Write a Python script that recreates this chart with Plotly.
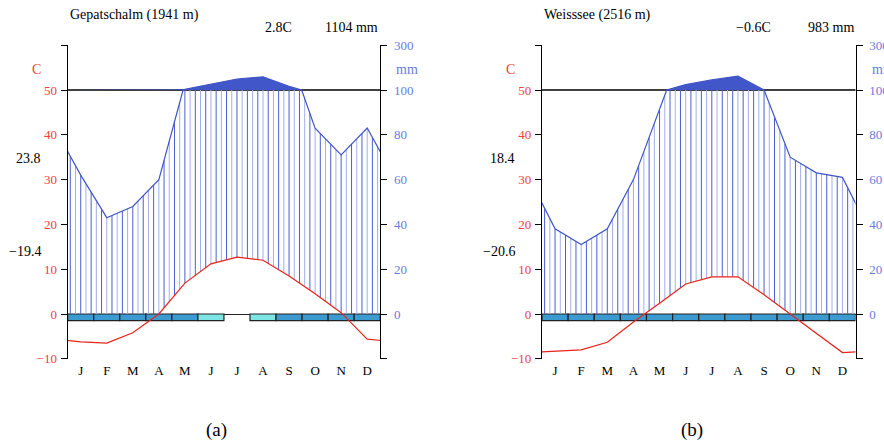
import numpy as np
import plotly.graph_objects as go

# ---------------------------------------------------------------- data
MONTHS = ["J", "F", "M", "A", "M", "J", "J", "A", "S", "O", "N", "D"]

GEP_NAME = "Gepatschalm (1941 m)"
GEP_TEMP = [-6.2, -6.5, -4.2, 0.0, 6.9, 11.2, 12.7, 12.0, 8.5, 4.5, 0.3, -5.6]   # degC
GEP_PREC = [62, 43, 48, 60, 103, 127, 149, 159, 116, 83, 71, 83]                # mm
GEP_ABS_MAX = 23.8
GEP_ABS_MIN = -19.4
GEP_FROST = ["sure", "sure", "sure", "sure", "sure", "prob",
             "none", "prob", "sure", "sure", "sure", "sure"]

WEI_NAME = "Weisssee (2516 m)"
WEI_TEMP = [-8.3, -8.0, -6.3, -1.8, 2.4, 6.7, 8.3, 8.3, 4.3, 0.0, -4.2, -8.6]
WEI_PREC = [38, 31, 38, 60, 91, 124, 145, 162, 100, 70, 63, 61]
WEI_ABS_MAX = 18.4
WEI_ABS_MIN = -20.6
WEI_FROST = ["sure"] * 12

# ---------------------------------------------------------------- style
FONT = "Liberation Serif"
FS = 13
FS_TITLE = 14
PREC_COL = "#4156c9"
HATCH_DARK = "#4a5ed0"
HATCH_LIGHT = "#a3aeeb"
TEMP_COL = "#e8231a"
TEMP_LAB = "#f0413c"
PREC_LAB = "#6a7be0"
FROST_COL = {"sure": "#3b9bd1", "prob": "#7de6e4", "none": "rgba(0,0,0,0)"}
BAR_DEPTH = 1.5          # height of the frost bar, in temperature units

W, H = 884, 443
Y_TOP_PX, Y_BOT_PX = 45.2, 358.8
PANELS_PX = [(67.7, 380.2), (542.0, 855.5)]


def mm_to_axis(p):
    """Walter-Lieth scale: 20 mm per 10 C up to 100 mm, 200 mm per 10 C above."""
    p = np.asarray(p, float)
    return np.where(p <= 100, p / 2.0, 50 + (p - 100) / 20.0)


def padded(vals):
    xs = np.arange(14) - 0.5
    vs = np.r_[vals[-1], vals, vals[0]].astype(float)
    return xs, vs


def prec_path(prec):
    xs, ps = padded(prec)
    px, pp = [xs[0]], [ps[0]]
    for i in range(13):
        a, b = ps[i], ps[i + 1]
        if (a - 100) * (b - 100) < 0:
            f = (100 - a) / (b - a)
            px.append(xs[i] + f)
            pp.append(100.0)
        px.append(xs[i + 1])
        pp.append(b)
    return np.array(px), mm_to_axis(pp)


def fmt(v):
    return f"{v:.1f}".replace("-", "\u2212")


fig = go.Figure()
y_dom = [(H - Y_BOT_PX) / H, (H - Y_TOP_PX) / H]

stations = [
    (GEP_NAME, GEP_TEMP, GEP_PREC, GEP_ABS_MAX, GEP_ABS_MIN, GEP_FROST, "(a)"),
    (WEI_NAME, WEI_TEMP, WEI_PREC, WEI_ABS_MAX, WEI_ABS_MIN, WEI_FROST, "(b)"),
]

annotations = []
shapes = []
for k, (name, temp, prec, tmax, tmin, frost, cap) in enumerate(stations):
    xa = "x" if k == 0 else "x2"
    ya = "y" if k == 0 else "y3"
    yr = "y2" if k == 0 else "y4"
    xdom = "x domain" if k == 0 else "x2 domain"
    x0p, x1p = PANELS_PX[k]

    xs, ts = padded(temp)
    px, pd_ = prec_path(prec)

    # humid-period hatching
    xi = np.arange(0.1, 12, 0.2)
    ti = np.interp(xi, xs, ts)
    pi = np.interp(xi, px, pd_)
    seg = {0: ([], []), 1: ([], [])}
    for j, (xv, tv, pv) in enumerate(zip(xi, ti, pi)):
        lo, hi = max(tv, 0.0), min(pv, 50.0)
        if hi > lo:
            sx, sy = seg[j % 2]
            sx += [xv, xv, None]
            sy += [lo, hi, None]
    for j, col in ((0, HATCH_DARK), (1, HATCH_LIGHT)):
        fig.add_trace(go.Scatter(x=seg[j][0], y=seg[j][1], mode="lines",
                                 line=dict(color=col, width=1),
                                 xaxis=xa, yaxis=ya, hoverinfo="skip",
                                 showlegend=False))

    # frost bar
    fig.add_trace(go.Bar(
        x=np.arange(12) + 0.5, y=[BAR_DEPTH] * 12, base=-BAR_DEPTH, width=1,
        marker=dict(color=[FROST_COL[f] for f in frost],
                    line=dict(color=["#222" if f != "none" else "rgba(0,0,0,0)" for f in frost],
                              width=[1.2 if f != "none" else 0 for f in frost])),
        xaxis=xa, yaxis=ya, showlegend=False, hoverinfo="skip"))

    # temperature curve
    fig.add_trace(go.Scatter(x=xs, y=ts, mode="lines",
                             line=dict(color=TEMP_COL, width=1.2),
                             xaxis=xa, yaxis=ya, showlegend=False))

    # precipitation above 100 mm (solid), on the precipitation axis
    top = np.maximum(pd_, 50.0)
    fig.add_trace(go.Scatter(
        x=np.r_[px, px[::-1]], y=np.r_[top, np.full_like(top, 50.0)],
        fill="toself", fillcolor=PREC_COL, mode="lines", line=dict(width=0),
        xaxis=xa, yaxis=yr, showlegend=False, hoverinfo="skip"))

    # precipitation curve
    fig.add_trace(go.Scatter(x=px, y=pd_, mode="lines",
                             line=dict(color=PREC_COL, width=1.2),
                             xaxis=xa, yaxis=yr, showlegend=False))

    # 100 mm reference line
    shapes.append(dict(type="line", xref=xdom, yref=ya, x0=0, x1=1,
                       y0=float(mm_to_axis(100)), y1=float(mm_to_axis(100)),
                       line=dict(color="black", width=1.4), layer="below"))

    # texts
    def ann(text, x, y, yref, xanchor="center", color="black", size=FS,
            xshift=0, yshift=0, xref=xdom):
        annotations.append(dict(text=text, x=x, y=y, xref=xref, yref=yref,
                                xanchor=xanchor, yanchor="middle",
                                xshift=xshift, yshift=yshift, showarrow=False,
                                font=dict(family=FONT, size=size, color=color)))

    ydom_ref = "y domain" if k == 0 else "y3 domain"
    ann(name, 0, 1, ydom_ref, xanchor="left", yshift=Y_TOP_PX - 15,
        size=FS_TITLE)
    ann(f"{fmt(np.mean(temp))}C", 1, 1, ydom_ref, xshift=-102,
        yshift=Y_TOP_PX - 27, size=FS_TITLE)
    ann(f"{int(round(sum(prec)))} mm", 1, 1, ydom_ref, xanchor="right",
        yshift=Y_TOP_PX - 27, size=FS_TITLE)
    ann("C", 0, 54.5, ya, color=TEMP_LAB, xshift=-31.5, size=FS_TITLE)
    ann("mm", 0.0, 54.5, ya, xanchor="left", color=PREC_LAB,
        xshift=(x1p - x0p) + 14, size=FS_TITLE)
    ann(fmt(tmax), 0, 34.8, ya, xanchor="right", xshift=-25, size=FS_TITLE)
    ann(fmt(tmin), 0, 14.0, ya, xanchor="right", xshift=-25, size=FS_TITLE)
    annotations.append(dict(text=cap, x=(x0p + x1p) / 2 / W - 7 / W,
                            y=(H - 430) / H, xref="paper", yref="paper",
                            showarrow=False, xanchor="center", yanchor="middle",
                            font=dict(family=FONT, size=19, color="black")))

# ---------------------------------------------------------------- axes
t_ticks = list(range(-10, 61, 10))
t_text = [fmt(v).replace(".0", "") if v < 60 else "" for v in t_ticks]
p_text = [""] + [str(v) for v in range(0, 101, 20)] + ["300"]

common_y = dict(range=[-10, 60], domain=y_dom, tickvals=t_ticks, ticks="outside",
                ticklen=6, tickwidth=1.2, tickcolor="black", showline=True,
                linecolor="black", linewidth=1.3, showgrid=False,
                automargin=False, tickfont=dict(family=FONT, size=FS),
                fixedrange=True)

layout = dict(
    template="none",
    width=W, height=H, margin=dict(l=0, r=0, t=0, b=0, pad=0),
    paper_bgcolor="white", plot_bgcolor="white", showlegend=False,
    annotations=annotations, shapes=shapes, barmode="overlay",
    font=dict(family=FONT, size=FS, color="black"),
)
for k in range(2):
    x0p, x1p = PANELS_PX[k]
    xk = "xaxis" if k == 0 else "xaxis2"
    yl = "yaxis" if k == 0 else "yaxis3"
    yrk = "yaxis2" if k == 0 else "yaxis4"
    yl_id = "y" if k == 0 else "y3"
    x_id = "x" if k == 0 else "x2"
    layout[xk] = dict(domain=[x0p / W, x1p / W], range=[0, 12], anchor=yl_id,
                      tickvals=[m + 0.5 for m in range(12)], ticktext=MONTHS,
                      ticks="", showline=False, showgrid=False, zeroline=False,
                      ticklabelstandoff=2, automargin=False,
                      tickfont=dict(family=FONT, size=FS, color="black"),
                      fixedrange=True)
    layout[yl] = dict(common_y, anchor=x_id, side="left", ticktext=t_text,
                      zeroline=True, zerolinecolor="#222", zerolinewidth=1,
                      ticklabelstandoff=1,
                      tickfont=dict(family=FONT, size=FS, color=TEMP_LAB))
    layout[yrk] = dict(common_y, anchor=x_id, side="right", overlaying=yl_id,
                       ticktext=p_text, zeroline=False, ticklabelstandoff=4,
                       tickfont=dict(family=FONT, size=FS, color=PREC_LAB))

fig.update_layout(**layout)
fig.write_html("out.html")
